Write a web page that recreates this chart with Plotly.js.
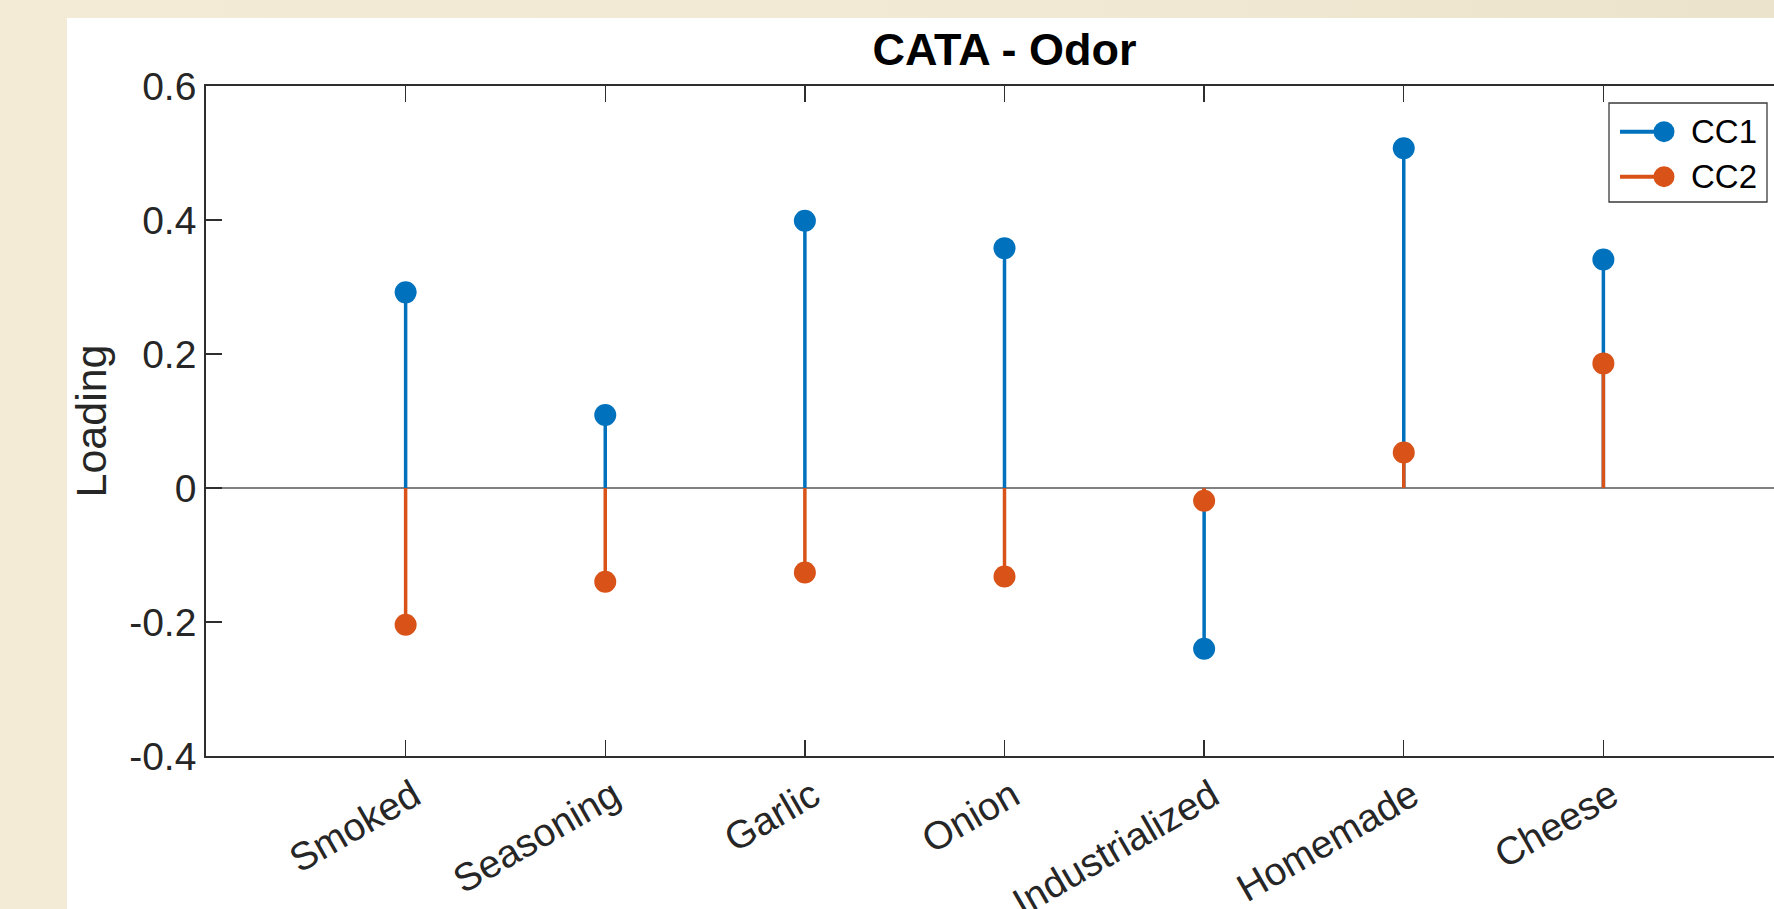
<!DOCTYPE html>
<html>
<head>
<meta charset="utf-8">
<script src="https://cdn.plot.ly/plotly-3.0.1.min.js"></script>
<style>
  html, body { margin: 0; padding: 0; width: 1774px; height: 909px; overflow: hidden;
    background: linear-gradient(90deg, #f3ebd6 0%, #f1e9d3 60%, #ece3cc 100%); }
  #panel { position: absolute; left: 67px; top: 18px; width: 1800px; height: 900px; background: #ffffff; }
  #chart { position: absolute; left: 0; top: 0; }
</style>
</head>
<body>
<div id="panel"><div id="chart"></div></div>
<script>
// Canonical correlation loadings for the CATA odor attributes
const categories = ['Smoked', 'Seasoning', 'Garlic', 'Onion', 'Industrialized', 'Homemade', 'Cheese'];
const cc1 = [0.292, 0.109, 0.399, 0.358, -0.240, 0.507, 0.341];
const cc2 = [-0.204, -0.140, -0.126, -0.132, -0.019, 0.053, 0.186];
const seriesNames = ['CC1', 'CC2'];
const yTickVals = [-0.4, -0.2, 0, 0.2, 0.4, 0.6];
const yTickText = ['-0.4', '-0.2', '0', '0.2', '0.4', '0.6'];

const colors = ['#0072BD', '#D95319'];
const FONT = 'Liberation Sans, Arial, Helvetica, sans-serif';

// plot geometry (pixels inside the chart div)
const W = 1776, H = 891;
const M = { l: 139, t: 68, r: 40, b: 153 };
const plotW = W - M.l - M.r, plotH = H - M.t - M.b;
const px2x = p => (p - M.l) / plotW;          // div pixel -> paper x
const px2y = p => (M.t + plotH - p) / plotH;  // div pixel -> paper y

function stemTrace(vals, color) {
  const x = [], y = [];
  categories.forEach((c, i) => { x.push(c, c, null); y.push(0, vals[i], null); });
  return { type: 'scatter', mode: 'lines', x, y, showlegend: false, hoverinfo: 'skip',
           line: { color, width: 3.5 } };
}
function headTrace(vals, color, name) {
  return { type: 'scatter', mode: 'markers', x: categories, y: vals, name, showlegend: false,
           marker: { color, size: 22, line: { width: 0 } } };
}

const series = [cc1, cc2];
const data = [];
series.forEach((vals, k) => {
  data.push(stemTrace(vals, colors[k]));
  data.push(headTrace(vals, colors[k], seriesNames[k]));
});

// legend box drawn in the upper-right corner
const leg = { x0: 1542, x1: 1700, y0: 85, y1: 184, rowY: [113.7, 158.7], lineX0: 1553, dotX: 1597, textX: 1622 };
const shapes = [{
  type: 'rect', xref: 'paper', yref: 'paper',
  x0: px2x(leg.x0), x1: px2x(leg.x1), y0: px2y(leg.y1), y1: px2y(leg.y0),
  line: { color: '#3a3a3a', width: 1.3 }, fillcolor: '#ffffff', layer: 'above'
}];
const annotations = [];
seriesNames.forEach((nm, k) => {
  const yy = px2y(leg.rowY[k]);
  shapes.push({ type: 'line', xref: 'paper', yref: 'paper', x0: px2x(leg.lineX0), x1: px2x(leg.dotX),
                y0: yy, y1: yy, line: { color: colors[k], width: 4 }, layer: 'above' });
  shapes.push({ type: 'circle', xref: 'paper', yref: 'paper', xsizemode: 'pixel', ysizemode: 'pixel',
                xanchor: px2x(leg.dotX), yanchor: yy, x0: -10.5, x1: 10.5, y0: -10.5, y1: 10.5,
                fillcolor: colors[k], line: { width: 0 }, layer: 'above' });
  annotations.push({ xref: 'paper', yref: 'paper', x: px2x(leg.textX), y: yy, xanchor: 'left', yanchor: 'middle',
                     text: nm, showarrow: false, font: { family: FONT, size: 33, color: '#000000' } });
});

const axisCommon = {
  showline: true, linecolor: '#2e2e2e', linewidth: 1.8, mirror: 'ticks',
  ticks: 'inside', ticklen: 16, tickwidth: 1.3, tickcolor: '#2e2e2e',
  showgrid: false, tickfont: { family: FONT, size: 39, color: '#262626' }
};

const layout = {
  width: W, height: H, margin: M,
  paper_bgcolor: '#ffffff', plot_bgcolor: '#ffffff',
  showlegend: false,
  title: { text: '<b>CATA - Odor</b>', font: { family: FONT, size: 45, color: '#000000' },
           xref: 'paper', x: 0.5, xanchor: 'center', yref: 'container', y: 1 - 31.5 / H, yanchor: 'middle' },
  xaxis: Object.assign({}, axisCommon, {
    type: 'category', categoryorder: 'array', categoryarray: categories,
    range: [-1, categories.length], tickangle: -30, zeroline: false,
    ticklabelshift: 8
  }),
  yaxis: Object.assign({}, axisCommon, {
    range: [-0.4, 0.6], tickvals: yTickVals, ticktext: yTickText,
    zeroline: true, zerolinecolor: '#808080', zerolinewidth: 1.6,
    title: { text: 'Loading', font: { family: FONT, size: 43, color: '#262626' }, standoff: 15 }
  }),
  shapes, annotations
};

Plotly.newPlot('chart', data, layout, { displayModeBar: false, staticPlot: true });
</script>
</body>
</html>
